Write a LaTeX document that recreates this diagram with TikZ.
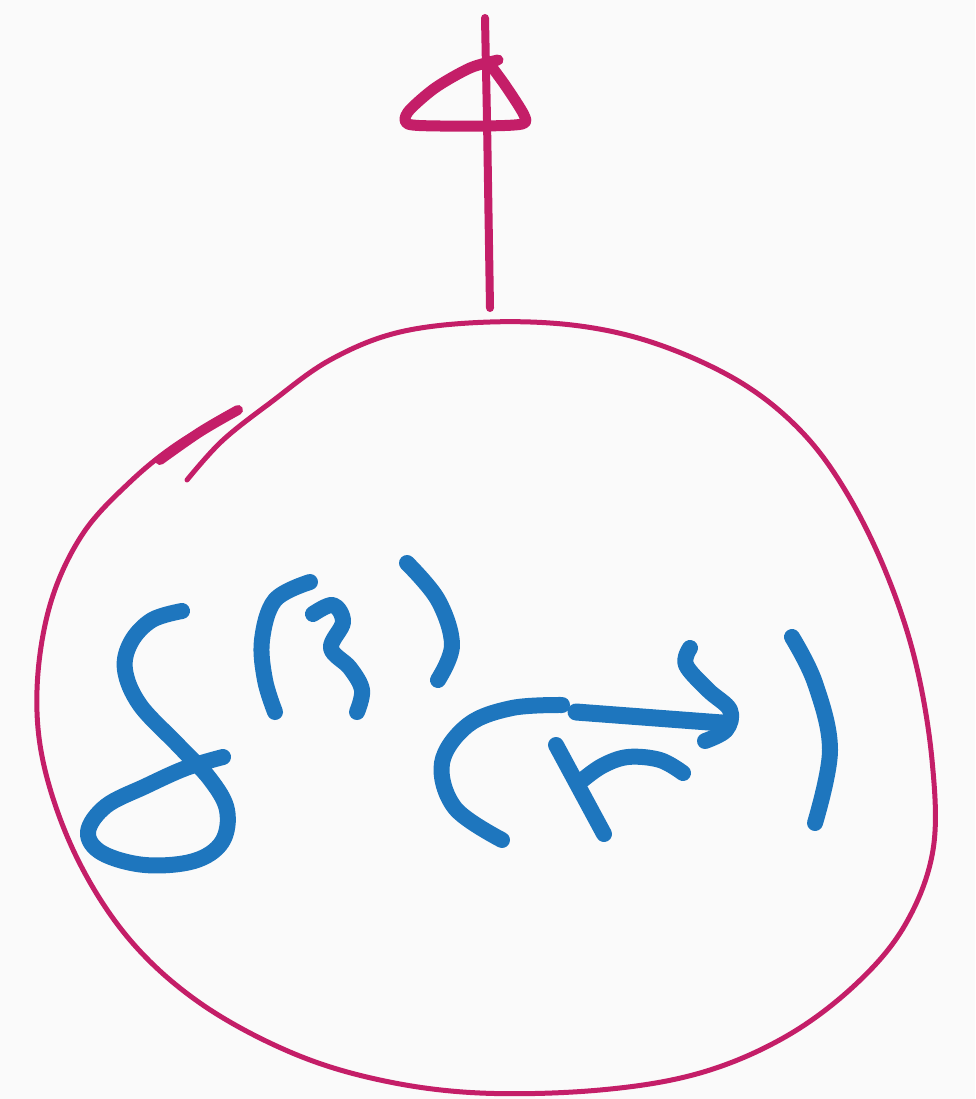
\documentclass[tikz,border=0pt]{standalone}
\usetikzlibrary{calc}
\definecolor{mag}{RGB}{196,30,104}
\definecolor{inkblue}{RGB}{30,118,190}
\definecolor{paper}{RGB}{250,250,250}
\tikzset{
  outline/.style={draw=mag, line width=5pt, line cap=round, line join=round},
  penmag/.style={draw=mag, line width=11pt, line cap=round, line join=round},
  penblue/.style={draw=inkblue, line width=16pt, line cap=round, line join=round},
}
\begin{document}
\begin{tikzpicture}[x=1pt,y=-1pt]
\fill[paper] (0,0) rectangle (975,1099);
\useasboundingbox (0,0) rectangle (975,1099);
% blob outline
\draw[outline] plot[smooth, tension=0.6] coordinates {
 (238,410) (180,442) (130,482) (82,535) (50,605) (37,690) (45,770) (78,860)
 (130,940) (200,1003) (290,1052) (380,1080) (480,1093) (600,1090) (700,1073)
 (785,1037) (855,985) (905,925) (933,850) (932,760) (915,660) (885,570)
 (845,490) (800,430) (740,382) (660,345) (580,326) (490,322) (400,332)
 (330,360) (270,403) (222,441) (187,480)};
\draw[outline, line width=10pt] plot[smooth, tension=0.6] coordinates {(238,410) (200,432) (160,460)};
% arrow
\coordinate (a0) at (490,308);
\coordinate (a1) at (485,18);
\draw[outline, line width=8pt] (a0) -- (487,120) -- (a1);
\draw[penmag] plot[smooth, tension=0.5] coordinates {
 (498,60) (470,68) (435,88) (408,112) (408,124) (440,126) (485,126) (522,124)
 (524,115) (505,85) (488,62)};
% delta
\draw[penblue] plot[smooth, tension=0.6] coordinates {
 (182,611) (152,620) (131,642) (125,670) (140,705) (178,745) (210,779)
 (227,810) (222,842) (194,861) (145,865) (102,853) (88,832) (106,806)
 (146,786) (186,768) (223,757)};
% superscript (3)
\draw[penblue] plot[smooth, tension=0.6] coordinates {(310,582) (275,600) (262,640) (265,680) (275,712)};
\draw[penblue] plot[smooth, tension=0.6] coordinates {(313,614) (333,605) (343,622) (331,648) (350,668) (362,690) (357,712)};
\draw[penblue] plot[smooth, tension=0.6] coordinates {(407,563) (438,600) (452,645) (438,680)};
% (r)
\draw[penblue] plot[smooth, tension=0.6] coordinates {(562,705) (512,708) (468,725) (442,763) (455,808) (502,840)};
\draw[penblue] (556,745) -- (604,834);
\draw[penblue] plot[smooth, tension=0.6] coordinates {(580,782) (602,766) (628,757) (660,760) (683,773)};
% vector arrow
\draw[penblue, line width=17pt] (576,712) -- (722,723);
\draw[penblue] plot[smooth, tension=0.6] coordinates {(690,648) (686,665) (708,690) (730,710) (726,730) (705,741)};
% closing paren
\draw[penblue] plot[smooth, tension=0.6] coordinates {(792,637) (815,683) (830,750) (815,823)};
\end{tikzpicture}
\end{document}
